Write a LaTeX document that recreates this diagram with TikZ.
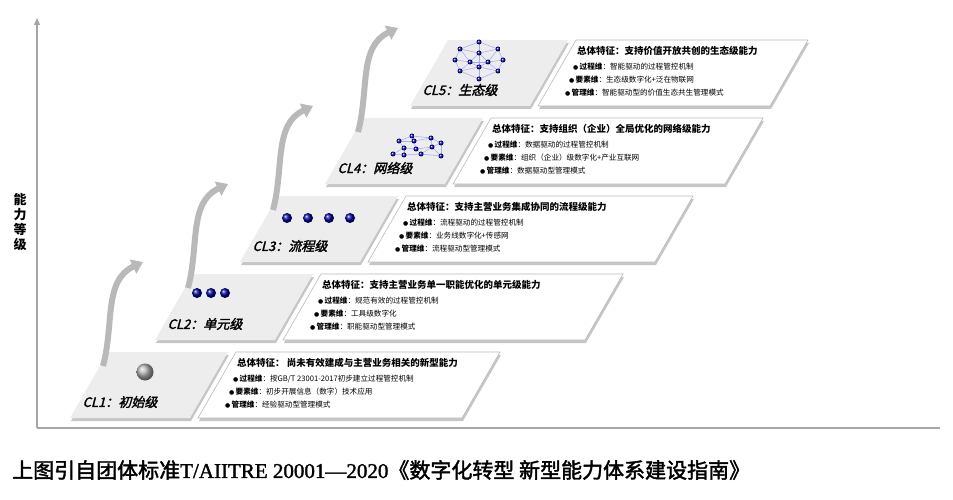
\documentclass[tikz,border=0pt]{standalone}
\usepackage{fontspec}
\setmainfont{Noto Sans CJK SC}
\newfontfamily\labfont[FakeSlant=0.25,FakeBold=2]{Noto Sans CJK SC}
\newfontfamily\capserif[FakeBold=1.5]{Liberation Serif}
\newfontfamily\capcjk[FakeBold=2]{Noto Sans CJK SC}
\newfontfamily\dv{DejaVu Sans}
\usetikzlibrary{arrows.meta,shadings}
\tikzset{
 labpanel/.style={fill=gray!14},
 txtpanel/.style={fill=white,draw=gray!55,line width=0.6pt},
 shadowp/.style={fill=gray!45},
 stepper/.style={draw=gray!55,line width=6pt,-{Triangle[length=11pt,width=15pt]},line cap=butt},
 ttl/.style={anchor=west,inner sep=0,font=\fontsize{9.5}{10}\selectfont\bfseries},
 itm/.style={anchor=west,inner sep=0,font=\fontsize{7.6}{8}\selectfont},
 lab/.style={inner sep=0,font=\fontsize{13}{13}\labfont},
 ball/.style={circle,inner sep=0,minimum size=10pt,ball color=blue!60!black},
 dot/.style={circle,inner sep=0,minimum size=5pt,ball color=blue!65!black},
 netl/.style={draw=blue!35,line width=0.5pt}
}
\newcommand\bul{{\dv\fontsize{6}{6}\selectfont●}\,}
\newcommand\panels[5]{%
 \coordinate (#1-b) at (#2,#3);
 \coordinate (#1-t) at ({#2+128},#3);
 \fill[shadowp] ({#2+1},{#3+3}) -- ++(38,-66) -- ++(120,0) -- ++(-38,66) -- cycle;
 \fill[shadowp] ({#2+129},{#3+3}) -- ++(38,-66) -- ({#5+39},{#3-63}) -- ({#5+1},{#3+3}) -- cycle;
 \fill[labpanel] (#1-b) -- ++(38,-66) -- ++(120,0) -- ++(-38,66) -- cycle;
 \filldraw[txtpanel] (#1-t) -- ++(38,-66) -- ({#5+38},{#3-66}) -- (#5,#3) -- cycle;
 \node[lab] (#1-lab) at ({#2+50},{#3-16}) {#4};
}
\newcommand\texts[5]{%
 \node[ttl] (#1-ti) at ([shift={(39,-55)}]#1-t) {总体特征：#2};
 \node[itm] (#1-i1) at ([shift={(35,-39)}]#1-t) {\bul{\bfseries 过程维}：#3};
 \node[itm] (#1-i2) at ([shift={(31,-26)}]#1-t) {\bul{\bfseries 要素维}：#4};
 \node[itm] (#1-i3) at ([shift={(27,-13)}]#1-t) {\bul{\bfseries 管理维}：#5};
}
\begin{document}
\begin{tikzpicture}[x=1pt,y=-1pt]
\useasboundingbox (0,0) rectangle (953,500);
% axes
\coordinate (o) at (37,428);
\coordinate (ytop) at (37,18);
\coordinate (xend) at (940,428);
\draw[gray!70,line width=1.2pt,-{Triangle[length=7pt,width=6pt]}] (o) -- (ytop);
\draw[gray!70,line width=1.2pt] (o) -- (xend);
\node[font=\fontsize{13}{15}\selectfont\bfseries,align=center,inner sep=0] (ylab) at (20,222) {能\\力\\等\\级};
% levels
\panels{c1}{70}{418}{CL1：初始级}{462}
\panels{c2}{155}{340}{CL2：单元级}{585}
\panels{c3}{240}{262}{CL3：流程级}{655}
\panels{c4}{325}{184}{CL4：网络级}{725}
\panels{c5}{410}{106}{CL5：生态级}{770}
\texts{c1}{ 尚未有效建成与主营业务相关的新型能力}{按GB/T 23001-2017初步建立过程管控机制}{初步开展信息（数字）技术应用}{经验驱动型管理模式}
\texts{c2}{支持主营业务单一职能优化的单元级能力}{规范有效的过程管控机制}{工具级数字化}{职能驱动型管理模式}
\texts{c3}{支持主营业务集成协同的流程级能力}{流程驱动的过程管控机制}{业务线数字化+传感网}{流程驱动型管理模式}
\texts{c4}{支持组织（企业）全局优化的网络级能力}{数据驱动的过程管控机制}{组织（企业）级数字化+产业互联网}{数据驱动型管理模式}
\texts{c5}{支持价值开放共创的生态级能力}{智能驱动的过程管控机制}{生态级数字化+泛在物联网}{智能驱动型的价值生态共生管理模式}
% arrows
\foreach \sa/\sb in {c1/c2,c2/c3,c3/c4,c4/c5}{
 \coordinate (\sa-s) at ([shift={(33,-52)}]\sa-b);
 \coordinate (\sa-e) at ([shift={(-12,-78)}]\sb-b);
 \draw[stepper] (\sa-s) to[out=75,in=205] (\sa-e);
}
% icons
\node[circle,inner sep=0,minimum size=17pt,ball color=gray!60] (s1) at (145,372) {};
\foreach \ii/\xx in {1/197,2/211,3/225} {\node[ball] (b2\ii) at (\xx,293) {};}
\foreach \ii/\xx in {1/287,2/308,3/329,4/350} {\node[ball] (b3\ii) at (\xx,218) {};}
% CL4 network
\coordinate (na) at (412,136); \coordinate (nb) at (399,141); \coordinate (nc) at (414,141);
\coordinate (nd) at (431,138); \coordinate (ne) at (404,148); \coordinate (nf) at (416,149);
\coordinate (ng) at (432,147); \coordinate (nh) at (441,143); \coordinate (ni) at (393,154);
\coordinate (nj) at (404,155); \coordinate (nk) at (421,154); \coordinate (nl) at (441,156);
\foreach \qa/\qb in {a/b,a/c,a/d,b/e,c/f,d/g,d/h,e/f,f/g,g/h,e/i,e/j,f/k,g/k,g/l,h/l,i/j,j/k,k/l,b/c,c/d}
 {\draw[netl] (n\qa) -- (n\qb);}
\foreach \nn in {a,b,c,d,e,f,g,h,i,j,k,l} {\node[dot] (d4\nn) at (n\nn) {};}
% CL5 network
\coordinate (ma) at (479,42); \coordinate (mb) at (460,49); \coordinate (mc) at (479,53);
\coordinate (md) at (498,49); \coordinate (me) at (455,60); \coordinate (mf) at (470,62);
\coordinate (mg) at (488,62); \coordinate (mh) at (503,60); \coordinate (mi) at (460,71);
\coordinate (mj) at (479,67); \coordinate (mk) at (498,71); \coordinate (ml) at (479,79);
\foreach \qa/\qb in {a/b,a/c,a/d,b/c,c/d,b/e,d/h,e/i,h/k,i/l,k/l,e/f,f/g,g/h,c/f,c/g,f/j,g/j,j/i,j/k,j/l,b/f,d/g,f/i,g/k,a/j}
 {\draw[netl] (m\qa) -- (m\qb);}
\foreach \nn in {a,b,c,d,e,f,g,h,i,j,k,l} {\node[dot] (d5\nn) at (m\nn) {};}
% caption
\node[anchor=west,inner sep=0,font=\fontsize{21}{22}\selectfont] (cap) at (12,470)
 {\capcjk 上图引自团体标准\capserif T/AIITRE 20001—2020\capcjk《数字化转型 新型能力体系建设指南》};
\end{tikzpicture}
\end{document}
